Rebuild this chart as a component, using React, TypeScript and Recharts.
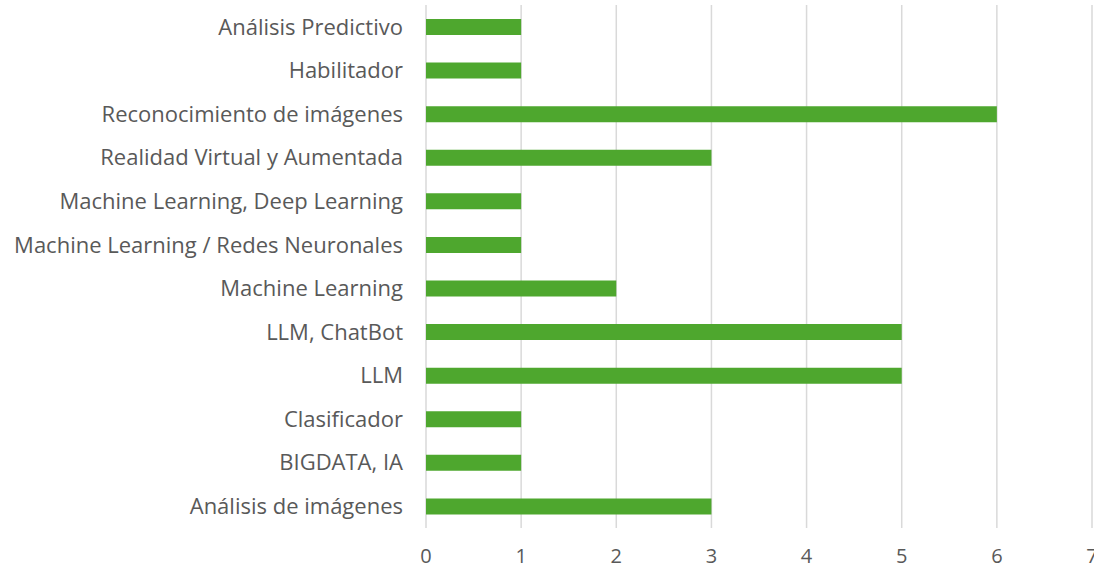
import { Bar, BarChart, CartesianGrid, XAxis, YAxis } from "recharts"

const categories = [
  "Análisis Predictivo",
  "Habilitador",
  "Reconocimiento de imágenes",
  "Realidad Virtual y Aumentada",
  "Machine Learning, Deep Learning",
  "Machine Learning / Redes Neuronales",
  "Machine Learning",
  "LLM, ChatBot",
  "LLM",
  "Clasificador",
  "BIGDATA, IA",
  "Análisis de imágenes",
]

const counts = [1, 1, 6, 3, 1, 1, 2, 5, 5, 1, 1, 3]

const xTicks = [0, 1, 2, 3, 4, 5, 6, 7]

const data = categories.map((name, i) => ({ name, value: counts[i] }))

const font = "'Open Sans', 'Noto Sans', sans-serif"

export default function App() {
  return (
    <div style={{ position: "absolute", left: 0, top: 0, fontFamily: font }}>
      <BarChart
        width={1094}
        height={569}
        data={data}
        layout="vertical"
        margin={{ top: 5, right: 2, left: 0, bottom: 0 }}
        barSize={16}
      >
        <CartesianGrid horizontal={false} stroke="#d9d9d9" strokeWidth={1.5} />
        <XAxis
          type="number"
          domain={[0, 7]}
          ticks={xTicks}
          interval={0}
          axisLine={false}
          tickLine={false}
          tickMargin={15}
          height={41}
          fontSize={20}
          tick={{ fill: "#595959", fontSize: 20, fontFamily: font }}
        />
        <YAxis
          type="category"
          dataKey="name"
          width={426}
          axisLine={false}
          tickLine={false}
          tickMargin={17}
          interval={0}
          fontSize={22}
          tick={{ fill: "#595959", fontSize: 22, fontFamily: font }}
        />
        <Bar dataKey="value" fill="#4ea72e" isAnimationActive={false} />
      </BarChart>
    </div>
  )
}
